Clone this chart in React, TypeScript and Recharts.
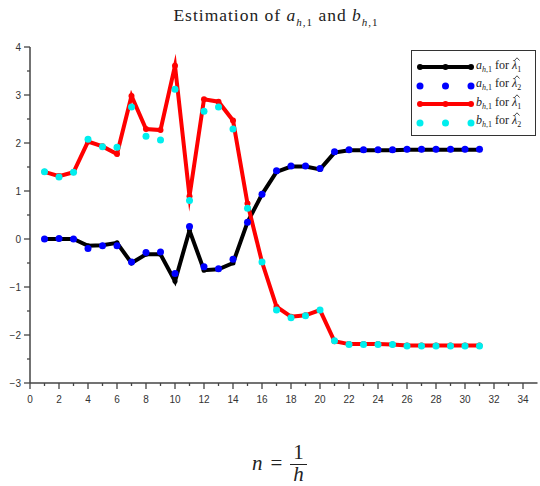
import { LineChart, Line, XAxis, YAxis } from 'recharts'

// n = 1/h
const nValues = [1, 2, 3, 4, 5, 6, 7, 8, 9, 10, 11, 12, 13, 14, 15, 16, 17, 18, 19, 20, 21, 22, 23, 24, 25, 26, 27, 28, 29, 30, 31]

// a_{h,1} for lambda_1 (black line) and lambda_2 (blue dots)
const aLambda1 = [0, 0, 0, -0.14, -0.13, -0.08, -0.5, -0.32, -0.32, -0.88, 0.18, -0.65, -0.63, -0.5, 0.35, 0.93, 1.4, 1.51, 1.51, 1.45, 1.8, 1.85, 1.85, 1.85, 1.85, 1.86, 1.86, 1.86, 1.86, 1.86, 1.86]
const aLambda2 = [0, 0.01, 0, -0.2, -0.14, -0.14, -0.48, -0.28, -0.27, -0.72, 0.26, -0.58, -0.62, -0.42, 0.35, 0.93, 1.42, 1.52, 1.52, 1.47, 1.82, 1.86, 1.86, 1.86, 1.86, 1.87, 1.87, 1.87, 1.87, 1.87, 1.87]

// b_{h,1} for lambda_1 (red line) and lambda_2 (cyan dots)
const bLambda1 = [1.4, 1.31, 1.39, 2.03, 1.93, 1.77, 2.98, 2.29, 2.27, 3.61, 0.89, 2.91, 2.86, 2.47, 0.74, -0.48, -1.41, -1.62, -1.59, -1.48, -2.13, -2.19, -2.19, -2.19, -2.2, -2.22, -2.22, -2.22, -2.22, -2.22, -2.22]
const bLambda2 = [1.4, 1.29, 1.39, 2.08, 1.92, 1.91, 2.75, 2.14, 2.06, 3.12, 0.8, 2.66, 2.75, 2.29, 0.64, -0.48, -1.48, -1.64, -1.6, -1.48, -2.12, -2.2, -2.2, -2.2, -2.2, -2.23, -2.23, -2.23, -2.23, -2.23, -2.23]

const xTicks = [0, 1, 2, 3, 4, 5, 6, 7, 8, 9, 10, 11, 12, 13, 14, 15, 16, 17, 18, 19, 20, 21, 22, 23, 24, 25, 26, 27, 28, 29, 30, 31, 32, 33, 34]
const yTicks = [-3, -2.5, -2, -1.5, -1, -0.5, 0, 0.5, 1, 1.5, 2, 2.5, 3, 3.5, 4]

const data = nValues.map((n, i) => ({
  n,
  a1: aLambda1[i],
  a2: aLambda2[i],
  b1: bLambda1[i],
  b2: bLambda2[i],
}))

const serif = '"Liberation Serif", "DejaVu Serif", serif'
const sans = '"Liberation Sans", Arial, sans-serif'
const axisColor = '#444'

function XTick({ x, y, payload }: any) {
  const major = payload.value % 2 === 0
  return (
    <g>
      <line x1={x} x2={x} y1={y} y2={y + (major ? 6 : 3)} stroke={axisColor} strokeWidth={1.3} />
      {major && (
        <text x={x} y={y + 20} textAnchor="middle" fontSize={10} fill="#333" fontFamily={sans}>
          {payload.value}
        </text>
      )}
    </g>
  )
}

function YTick({ x, y, payload }: any) {
  const major = Number.isInteger(payload.value)
  const label = payload.value < 0 ? `\u2212${Math.abs(payload.value)}` : `${payload.value}`
  return (
    <g>
      <line x1={x} x2={x - (major ? 6 : 3)} y1={y} y2={y} stroke={axisColor} strokeWidth={1.3} />
      {major && (
        <text x={x - 9} y={y + 3.5} textAnchor="end" fontSize={10} fill="#333" fontFamily={sans}>
          {label}
        </text>
      )}
    </g>
  )
}

const legendItems = [
  { sym: 'a', color: '#000000', line: true },
  { sym: 'a', color: '#0000ff', line: false },
  { sym: 'b', color: '#ff0000', line: true },
  { sym: 'b', color: '#00eeee', line: false },
]

// lambda with a hat (hat drawn as a small path)
function LambdaHat({ idx }: { idx: number }) {
  return (
    <span>
      <span style={{ position: 'relative', display: 'inline-block', lineHeight: '12px' }}>
        <i>{'\u03bb'}</i>
        <svg width={6} height={4} style={{ position: 'absolute', left: 1.5, top: -2 }}>
          <polyline points="0.5,3.5 3,0.8 5.5,3.5" fill="none" stroke="#222" strokeWidth={0.8} />
        </svg>
      </span>
      <sub style={{ fontSize: 8 }}>{idx}</sub>
    </span>
  )
}

function LegendBox() {
  return (
    <div
      style={{
        position: 'absolute',
        left: 411,
        top: 50,
        border: '1.5px solid #333',
        background: 'white',
        width: 125,
        height: 86,
        boxSizing: 'border-box',
        padding: '7px 0 0 3px',
        fontFamily: serif,
        fontSize: 12,
        color: '#222',
      }}
    >
      {legendItems.map((item, i) => (
        <div key={i} style={{ display: 'flex', alignItems: 'center', height: 18.5 }}>
          <svg width={61} height={10} style={{ flex: 'none' }}>
            {item.line && <line x1={5} x2={56} y1={5} y2={5} stroke={item.color} strokeWidth={4} />}
            {[5, 30.5, 56].map((cx) => (
              <circle key={cx} cx={cx} cy={5} r={item.line ? 3 : 3.5} fill={item.color} />
            ))}
          </svg>
          <span style={{ marginLeft: 0, whiteSpace: 'nowrap', lineHeight: '12px' }}>
            <i>{item.sym}</i>
            <sub style={{ fontSize: 8 }}>
              <i>h</i>,1
            </sub>{' '}
            for <LambdaHat idx={i % 2 === 0 ? 1 : 2} />
          </span>
        </div>
      ))}
    </div>
  )
}

export default function App() {
  return (
    <div style={{ position: 'absolute', left: 0, top: 0, width: 540, height: 486, background: 'white' }}>
      <div
        style={{
          position: 'absolute',
          top: 5,
          left: 0,
          width: 552,
          textAlign: 'center',
          fontFamily: serif,
          fontSize: 17.5,
          letterSpacing: 1,
          color: '#222',
        }}
      >
        Estimation of <i>a</i>
        <sub style={{ fontSize: 11 }}>
          <i>h</i>,1
        </sub>{' '}
        and <i>b</i>
        <sub style={{ fontSize: 11 }}>
          <i>h</i>,1
        </sub>
      </div>

      <LineChart width={540} height={486} data={data} margin={{ top: 47, right: 2.5, bottom: 73, left: 0 }}>
        <XAxis
          type="number"
          dataKey="n"
          domain={[0, 35]}
          ticks={xTicks}
          interval={0}
          tickSize={0}
          tickMargin={0}
          tick={<XTick />}
          axisLine={{ stroke: axisColor, strokeWidth: 1.5 }}
          allowDataOverflow
        />
        <YAxis
          type="number"
          domain={[-3, 4]}
          ticks={yTicks}
          interval={0}
          width={30}
          tickSize={0}
          tickMargin={0}
          tick={<YTick />}
          axisLine={{ stroke: axisColor, strokeWidth: 1.5 }}
          allowDataOverflow
        />
        <Line
          dataKey="a1"
          stroke="#000000"
          strokeWidth={4}
          strokeLinejoin="miter"
          strokeMiterlimit={10}
          dot={{ r: 2.5, fill: '#000000', stroke: 'none' }}
          isAnimationActive={false}
        />
        <Line
          dataKey="a2"
          stroke="none"
          dot={{ r: 3.5, fill: '#0000ff', stroke: 'none' }}
          isAnimationActive={false}
        />
        <Line
          dataKey="b1"
          stroke="#ff0000"
          strokeWidth={4}
          strokeLinejoin="miter"
          strokeMiterlimit={10}
          dot={{ r: 3, fill: '#ff0000', stroke: 'none' }}
          isAnimationActive={false}
        />
        <Line
          dataKey="b2"
          stroke="none"
          dot={{ r: 3.5, fill: '#00eeee', stroke: 'none' }}
          isAnimationActive={false}
        />
      </LineChart>

      <LegendBox />

      <div
        style={{
          position: 'absolute',
          left: 252,
          top: 443,
          display: 'flex',
          alignItems: 'center',
          fontFamily: serif,
          fontSize: 21,
          color: '#222',
        }}
      >
        <i>n</i>
        <span style={{ margin: '0 8px' }}>=</span>
        <span style={{ display: 'inline-flex', flexDirection: 'column', alignItems: 'center' }}>
          <span style={{ padding: '0 2px', lineHeight: '19px' }}>1</span>
          <span style={{ borderTop: '1px solid #222', padding: '0 3px', lineHeight: '19px', marginTop: 2 }}>
            <i>h</i>
          </span>
        </span>
      </div>
    </div>
  )
}
